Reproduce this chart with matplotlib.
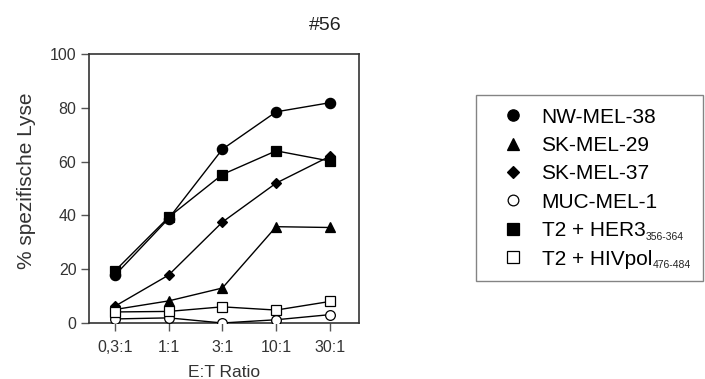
import matplotlib
matplotlib.use('Agg')
import matplotlib.pyplot as plt
from matplotlib.lines import Line2D

plt.rcParams['font.family'] = ['Liberation Sans', 'DejaVu Sans']

# ============================================================
# Daten
# ============================================================
ratios = ['0,3:1', '1:1', '3:1', '10:1', '30:1']

nw_mel_38 = [17.7, 38.8, 64.6, 78.5, 81.9]
sk_mel_29 = [5.0, 8.2, 13.0, 35.8, 35.5]
sk_mel_37 = [6.2, 17.8, 37.5, 52.0, 62.0]
muc_mel_1 = [1.5, 1.9, 0.0, 1.2, 3.1]
t2_her3 = [19.3, 39.3, 55.2, 64.0, 60.2]
t2_hivpol = [4.1, 4.3, 6.0, 4.8, 8.0]

labels = ['NW-MEL-38', 'SK-MEL-29', 'SK-MEL-37', 'MUC-MEL-1',
          'T2 + HER3', 'T2 + HIVpol']
subscripts = ['', '', '', '', '356-364', '476-484']

fig = plt.figure(figsize=(7.05, 3.79), dpi=100)
ax = fig.add_axes([0.1262, 0.1478, 0.383, 0.7097])

x = range(len(ratios))
series = [
    (nw_mel_38, 'o', 'black', 7.4),
    (sk_mel_29, '^', 'black', 7.6),
    (sk_mel_37, 'D', 'black', 5.6),
    (muc_mel_1, 'o', 'white', 7.0),
    (t2_her3, 's', 'black', 7.2),
    (t2_hivpol, 's', 'white', 7.2),
]

for (vals, m, fc, ms), lab in zip(series, labels):
    ax.plot(x, vals, color='black', lw=1.0, marker=m, ms=ms,
            mfc=fc, mec='black', mew=0.9, label=lab, zorder=3)

ax.set_xlim(-0.48, 4.54)
ax.set_ylim(0, 100)
ax.set_xticks(list(x))
ax.set_xticklabels(ratios)
ax.set_yticks([0, 20, 40, 60, 80, 100])
ax.tick_params(axis='both', labelsize=11.5, labelcolor='#333333',
               direction='out', length=5.5, width=1, color='#555555')
ax.tick_params(axis='x', pad=7)
for sp in ax.spines.values():
    sp.set_linewidth(1.2)
    sp.set_color('#333333')

ax.set_xlabel('E:T Ratio', fontsize=12.5, color='#333333', labelpad=7)
ax.set_ylabel('% spezifische Lyse', fontsize=15, color='#333333')
ax.yaxis.set_label_coords(-0.196, 0.53)
fig.text(0.462, 0.934, '#56', fontsize=14, color='#222222', ha='center', va='center')

# Legende ohne Linien, nur Marker
leg_handles = [Line2D([], [], ls='none', marker=m, ms=ms * 1.1, mfc=fc,
                      mec='black', mew=0.9)
               for (_, m, fc, ms) in series]
leg = fig.legend(leg_handles, labels, loc='upper left',
                 bbox_to_anchor=(0.675, 0.749, 0.322, 0.0), mode='expand',
                 borderaxespad=0, fontsize=15, frameon=True, fancybox=False,
                 edgecolor='#666666', labelspacing=0.45, handletextpad=0.15,
                 borderpad=0.6, handlelength=2.4)
leg.get_frame().set_linewidth(1.0)

# kleine tiefgestellte Peptid-Positionen hinter den Legendentexten
fig.canvas.draw()
renderer = fig.canvas.get_renderer()
inv = fig.transFigure.inverted()
for txt, sub in zip(leg.get_texts(), subscripts):
    if not sub:
        continue
    bb = txt.get_window_extent(renderer)
    fx, fy = inv.transform((bb.x1 + 0.5, bb.y0 + 0.5))
    fig.text(fx, fy, sub, fontsize=7.5, color='#222222', ha='left',
             va='baseline', zorder=10)

fig.savefig('out.png', dpi=100, facecolor='white')
